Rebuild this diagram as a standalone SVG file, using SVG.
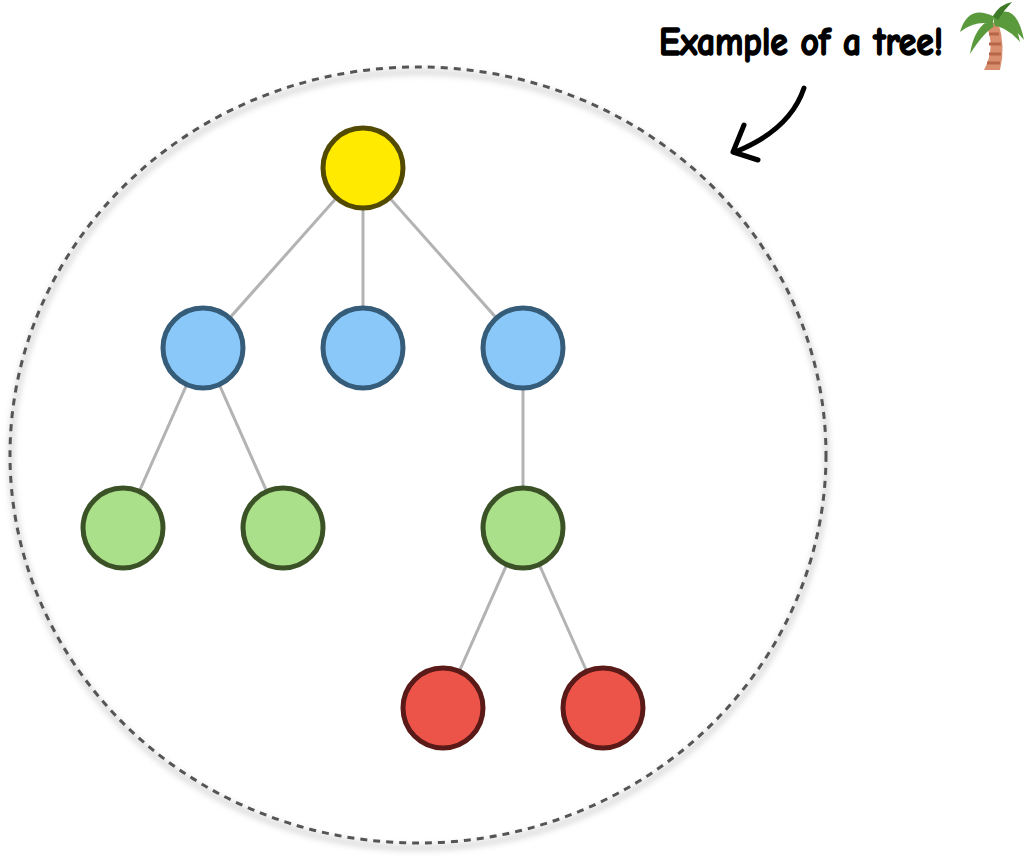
<svg xmlns="http://www.w3.org/2000/svg" width="1028" height="862" viewBox="0 0 1028 862">
<defs>
<filter id="sh" x="-10%" y="-10%" width="120%" height="120%"><feGaussianBlur stdDeviation="3"/></filter>
<style>
.e{stroke:#b3b3b3;stroke-width:3;fill:none}
.n{stroke-width:5}
.y{fill:#ffea00;stroke:#524a00}
.b{fill:#89c8f8;stroke:#355c78}
.g{fill:#abe08b;stroke:#3b5227}
.r{fill:#ec5449;stroke:#5a1a17}
</style>
</defs>
<rect width="1028" height="862" fill="#fff"/>
<ellipse cx="419" cy="460" rx="408" ry="388" fill="none" stroke="#ccc" stroke-width="4" filter="url(#sh)"/>
<ellipse cx="418" cy="455" rx="408" ry="388" fill="none" stroke="#555" stroke-width="3" stroke-dasharray="7 6"/>
<g id="connectors">
<line class="e" x1="363" y1="168" x2="203" y2="348"/>
<line class="e" x1="363" y1="168" x2="363" y2="348"/>
<line class="e" x1="363" y1="168" x2="523" y2="348"/>
<line class="e" x1="203" y1="348" x2="123" y2="528"/>
<line class="e" x1="203" y1="348" x2="283" y2="528"/>
<line class="e" x1="523" y1="348" x2="523" y2="528"/>
<line class="e" x1="523" y1="528" x2="443" y2="708"/>
<line class="e" x1="523" y1="528" x2="603" y2="708"/>
</g>
<g id="root"><circle class="n y" cx="363" cy="168" r="40"/></g>
<g id="b1"><circle class="n b" cx="203" cy="348" r="40"/></g>
<g id="b2"><circle class="n b" cx="363" cy="348" r="40"/></g>
<g id="b3"><circle class="n b" cx="523" cy="348" r="40"/></g>
<g id="g1"><circle class="n g" cx="123" cy="528" r="40"/></g>
<g id="g2"><circle class="n g" cx="283" cy="528" r="40"/></g>
<g id="g3"><circle class="n g" cx="523" cy="528" r="40"/></g>
<g id="r1"><circle class="n r" cx="443" cy="708" r="40"/></g>
<g id="r2"><circle class="n r" cx="603" cy="708" r="40"/></g>
<g id="label">
<text x="659" y="55" font-family="'Comic Neue','Liberation Sans',sans-serif" font-weight="bold" font-size="40" fill="#000" stroke="#000" stroke-width="1.6" stroke-linejoin="round" textLength="284" lengthAdjust="spacingAndGlyphs">Example of a tree!</text>
<path d="M804 88 Q790 130 735 152" fill="none" stroke="#000" stroke-width="5" stroke-linecap="round"/>
<path d="M744 125 L733 152 L758 160" fill="none" stroke="#000" stroke-width="5" stroke-linecap="round" stroke-linejoin="round"/>
<path d="M986 24 Q996 48 984 70 L1000 70 Q1006 46 998 22 Z" fill="#d98e6e"/>
<path d="M989 34 h10 M989 44 h12 M989 54 h12 M987 63 h13" stroke="#b8664a" stroke-width="3"/>
<path d="M993 16 Q968 4 960 32 Q975 20 993 24 Z M993 16 Q1016 0 1024 40 Q1008 20 993 24 Z M993 18 Q974 26 970 54 Q984 32 995 26 Z M995 18 Q1014 12 1020 42 Q1006 26 993 26 Z" fill="#5b9a3c"/>
<path d="M993 16 Q1000 4 1012 2 Q1004 10 998 20 Z" fill="#3f7a28"/>
</g>
</svg>
